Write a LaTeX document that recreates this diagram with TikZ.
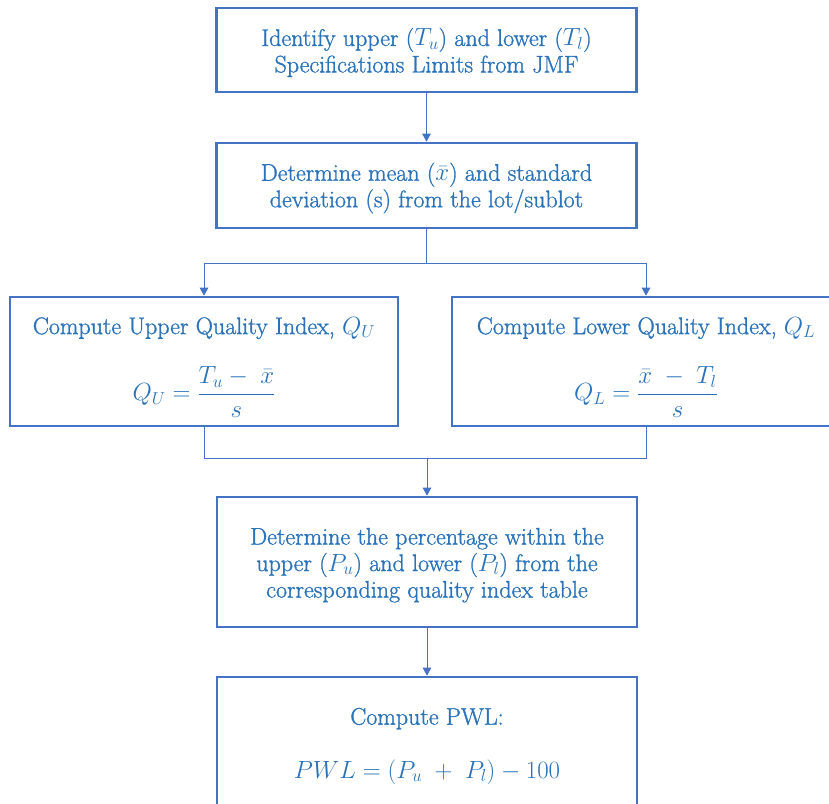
\documentclass[tikz,border=0pt]{standalone}
\usepackage{fontspec}
\setmainfont{Latin Modern Roman}[FakeBold=1.2]
\usetikzlibrary{arrows.meta}
\definecolor{txtblue}{HTML}{2A72BA}
\definecolor{lineblue}{HTML}{4472C4}
\newcommand{\topstrut}[1]{\rule{0pt}{#1}}
\begin{document}
\begin{tikzpicture}[x=1pt,y=-1pt,
  box/.style={draw=lineblue, line width=2.6pt, inner sep=0pt, text=txtblue, align=center,
    font=\fontsize{24}{26.5}\selectfont},
  conn/.style={draw=lineblue, line width=0.9pt},
  arr/.style={conn, -{Triangle[width=8.5pt,length=8pt]}}]
\useasboundingbox (0,0) rectangle (829,803);
\node[box, minimum width=420pt, minimum height=84pt] (b1) at (426.5,50)
  {\topstrut{23pt}Identify upper ($T_u$) and lower ($T_l$)\\Specifications Limits from JMF};
\node[box, minimum width=420pt, minimum height=85pt] (b2) at (426.5,185.5)
  {\topstrut{23pt}Determine mean ($\bar{x}$) and standard\\deviation (s) from the lot/sublot};
\node[box, minimum width=388pt, minimum height=129pt] (b3) at (204,361.5)
  {\topstrut{29pt}Compute Upper Quality Index, $Q_U$\\[27pt]$\displaystyle Q_U=\frac{T_u-\;\bar{x}}{s}$};
\node[box, minimum width=388pt, minimum height=129pt] (b4) at (646,361.5)
  {\topstrut{29pt}Compute Lower Quality Index, $Q_L$\\[27pt]$\displaystyle Q_L=\frac{\bar{x}\;-\;T_l}{s}$};
\node[box, minimum width=420pt, minimum height=130pt] (b5) at (427,562)
  {\topstrut{23pt}Determine the percentage within the\\upper ($P_u$) and lower ($P_l$) from the\\corresponding quality index table};
\node[box, minimum width=420pt, minimum height=130pt] (b6) at (427,742)
  {\topstrut{25pt}Compute PWL:\\[27pt]$PWL=(P_u\;+\;P_l)-100$};
\coordinate (sp) at (426.5,263);
\coordinate (mg) at (427,458);
\draw[arr] (b1.south) -- (b2.north);
\draw[arr] (b2.south) -- (sp) -| (b3.north);
\draw[arr] (sp) -| (b4.north);
\draw[conn] (b3.south) |- (mg);
\draw[conn] (b4.south) |- (mg);
\draw[arr] (mg) -- (b5.north);
\draw[arr] (b5.south) -- (b6.north);
\end{tikzpicture}
\end{document}
